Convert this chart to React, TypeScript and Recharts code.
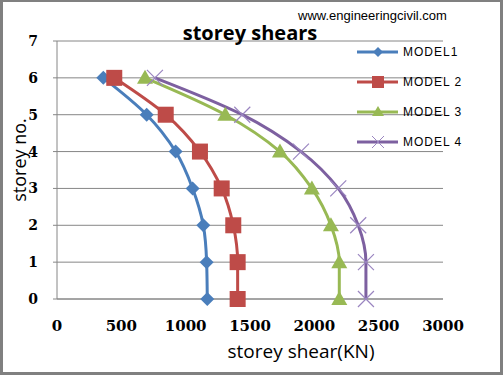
import { CartesianGrid, Line, LineChart, XAxis, YAxis } from "recharts";

const storeys = [0, 1, 2, 3, 4, 5, 6];
const model1 = [1168, 1163, 1137, 1054, 922, 697, 360];
const model2 = [1404, 1404, 1370, 1280, 1111, 845, 445];
const model3 = [2194, 2194, 2129, 1981, 1733, 1308, 684];
const model4 = [2401, 2401, 2341, 2186, 1896, 1440, 761];
const xTicks = [0, 500, 1000, 1500, 2000, 2500, 3000];
const yTicks = [0, 1, 2, 3, 4, 5, 6, 7];

const data = storeys.map((s, i) => ({
  storey: s,
  m1: model1[i],
  m2: model2[i],
  m3: model3[i],
  m4: model4[i],
}));

const colors = {
  m1: "#4a7ebb",
  m2: "#be4b48",
  m3: "#98b954",
  m4: "#7d60a0",
};

const gridColor = "#868686";
const tickFont = { fill: "#000", fontSize: 14, fontFamily: "DejaVu Serif", fontWeight: 700 };

type Shape = "diamond" | "square" | "triangle" | "cross";

const Marker = ({ shape, cx, cy, color }: { shape: Shape; cx: number; cy: number; color: string }) => {
  if (shape === "diamond") {
    const r = 7;
    return <path d={`M${cx},${cy - r}L${cx + r},${cy}L${cx},${cy + r}L${cx - r},${cy}Z`} fill={color} />;
  }
  if (shape === "square") {
    return <rect x={cx - 8} y={cy - 8} width={16} height={16} fill={color} />;
  }
  if (shape === "triangle") {
    return <path d={`M${cx},${cy - 8}L${cx + 8},${cy + 6}L${cx - 8},${cy + 6}Z`} fill={color} />;
  }
  return (
    <path
      d={`M${cx - 8},${cy - 8}L${cx + 8},${cy + 8}M${cx - 8},${cy + 8}L${cx + 8},${cy - 8}`}
      stroke="#9a85c0"
      strokeWidth={1.2}
    />
  );
};

const dotFor = (shape: Shape, color: string) => (props: any) => (
  <Marker key={`${shape}-${props.index}`} shape={shape} cx={props.cx} cy={props.cy} color={color} />
);

const legendItems: { label: string; key: keyof typeof colors; shape: Shape }[] = [
  { label: "MODEL1", key: "m1", shape: "diamond" },
  { label: "MODEL 2", key: "m2", shape: "square" },
  { label: "MODEL 3", key: "m3", shape: "triangle" },
  { label: "MODEL 4", key: "m4", shape: "cross" },
];

const App = () => {
  return (
    <div style={{ position: "relative", width: 503, height: 375, background: "#fff" }}>
      <style>{`body{margin:0}`}</style>
      <div
        style={{
          position: "absolute",
          inset: 0,
          border: "3px solid #808080",
          borderTopWidth: 2,
          boxSizing: "border-box",
          pointerEvents: "none",
          zIndex: 2,
        }}
      />
      <LineChart
        width={503}
        height={375}
        data={data}
        layout="vertical"
        margin={{ top: 41, right: 60, bottom: 36, left: 0 }}
      >
        <CartesianGrid horizontal vertical={false} stroke={gridColor} />
        <XAxis
          type="number"
          dataKey="m1"
          domain={[0, 3000]}
          ticks={xTicks}
          height={40}
          tickLine={false}
          tickSize={0}
          tickMargin={21}
          axisLine={{ stroke: gridColor }}
          tick={{ ...tickFont, fontSize: 15 }}
          interval={0}
        />
        <YAxis
          type="number"
          dataKey="storey"
          domain={[0, 7]}
          ticks={yTicks}
          reversed
          width={57}
          tickSize={4}
          tickMargin={15}
          tickLine={{ stroke: gridColor }}
          axisLine={{ stroke: gridColor }}
          tick={tickFont}
          interval={0}
        />
        <Line type="monotone" dataKey="m1" stroke={colors.m1} strokeWidth={3} dot={dotFor("diamond", colors.m1)} isAnimationActive={false} />
        <Line type="monotone" dataKey="m2" stroke={colors.m2} strokeWidth={3} dot={dotFor("square", colors.m2)} isAnimationActive={false} />
        <Line type="monotone" dataKey="m3" stroke={colors.m3} strokeWidth={3} dot={dotFor("triangle", colors.m3)} isAnimationActive={false} />
        <Line type="monotone" dataKey="m4" stroke={colors.m4} strokeWidth={3} dot={dotFor("cross", colors.m4)} isAnimationActive={false} />
      </LineChart>

      <div
        style={{
          position: "absolute",
          left: 298,
          top: 8,
          fontFamily: "Liberation Sans",
          fontSize: 13,
          color: "#000",
          whiteSpace: "nowrap",
        }}
      >
        www.engineeringcivil.com
      </div>
      <div
        style={{
          position: "absolute",
          left: 150,
          width: 200,
          top: 19,
          textAlign: "center",
          fontFamily: "Open Sans",
          fontWeight: 700,
          fontSize: 20,
          color: "#000",
        }}
      >
        storey shears
      </div>
      <div
        style={{
          position: "absolute",
          left: 201,
          width: 200,
          top: 338,
          textAlign: "center",
          fontFamily: "Open Sans",
          fontSize: 19,
          color: "#000",
        }}
      >
        storey shear(KN)
      </div>
      <div
        style={{
          position: "absolute",
          left: 19 - 60,
          width: 120,
          top: 161 - 13,
          textAlign: "center",
          fontFamily: "Open Sans",
          fontSize: 18,
          color: "#000",
          transform: "rotate(-90deg)",
        }}
      >
        storey no.
      </div>

      {legendItems.map((item, i) => (
        <div
          key={item.key}
          style={{ position: "absolute", left: 357, top: 52 + i * 30 - 8, height: 16, display: "flex", alignItems: "center" }}
        >
          <svg width={42} height={16}>
            <line x1={0} y1={8} x2={41} y2={8} stroke={colors[item.key]} strokeWidth={3} />
            {item.shape === "diamond" && <path d="M21,3L26,8L21,13L16,8Z" fill={colors.m1} />}
            {item.shape === "square" && <rect x={15} y={2} width={12} height={12} fill={colors.m2} />}
            {item.shape === "triangle" && <path d="M21,2L27,12L15,12Z" fill={colors.m3} />}
            {item.shape === "cross" && (
              <path d="M15,2L27,14M15,14L27,2" stroke="#9a85c0" strokeWidth={1} />
            )}
          </svg>
          <span
            style={{
              marginLeft: 4,
              fontFamily: "Liberation Sans",
              fontSize: 12,
              letterSpacing: 1,
              color: "#000",
              whiteSpace: "nowrap",
            }}
          >
            {item.label}
          </span>
        </div>
      ))}
    </div>
  );
};

export default App;
